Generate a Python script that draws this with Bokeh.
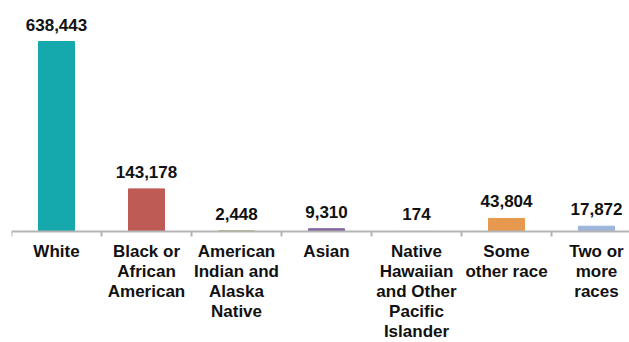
from bokeh.plotting import figure
from bokeh.models import ColumnDataSource, Range1d, FixedTicker
from bokeh.core.properties import value
from bokeh.embed import file_html
from bokeh.resources import INLINE

categories = ["White", "Black or\nAfrican\nAmerican", "American\nIndian and\nAlaska\nNative",
              "Asian", "Native\nHawaiian\nand Other\nPacific\nIslander", "Some\nother race",
              "Two or\nmore\nraces"]
counts = [638443, 143178, 2448, 9310, 174, 43804, 17872]
bar_colors = ["#15A9AD", "#BE5B54", "#9BAE63", "#8266A0", "#4BA3B8", "#E6994F", "#9DB5DB"]

xs = [i + 0.5 for i in range(len(categories))]
labels = [f"{c:,}" for c in counts]
src = ColumnDataSource(dict(x=xs, y=counts, color=bar_colors, label=labels,
                            cat=categories, zero=[0] * len(categories)))

W, H = 629, 342
left = 11
frame_w = W - left
cat_px = 90.0
axis_px = 231      # pixel row of the baseline
top_bar_px = 190   # height in px of the tallest bar
top_val = max(counts) * axis_px / top_bar_px
bottom_val = -top_val * (H - axis_px) / axis_px

p = figure(width=W, height=H, output_backend="svg", toolbar_location=None,
           x_range=Range1d(0, frame_w / cat_px),
           y_range=Range1d(bottom_val, top_val),
           min_border_left=left, min_border_right=0, min_border_top=0,
           min_border_bottom=0)
p.outline_line_color = None
p.grid.visible = False
p.yaxis.visible = False

p.vbar(x="x", top="y", bottom=0, width=0.4, color="color", source=src)
p.text(x="x", y="y", text="label", source=src, y_offset=-17,
       text_align="center", text_baseline="alphabetic",
       text_font=value("Liberation Sans"), text_font_style="bold",
       text_font_size="17px", text_color="#111111")
p.text(x="x", y="zero", text="cat", source=src, y_offset=10,
       text_align="center", text_baseline="top",
       text_font=value("Liberation Sans"), text_font_style="bold",
       text_font_size="17px", text_color="#111111", text_line_height=1.06)

ax = p.xaxis[0]
ax.fixed_location = 0
ax.ticker = FixedTicker(ticks=[], minor_ticks=list(range(len(categories) + 1)))
ax.major_label_text_font_size = "0px"
ax.axis_line_color = "#B4B4B4"
ax.axis_line_width = 2
ax.major_tick_line_color = None
ax.major_tick_out = 0
ax.major_tick_in = 0
ax.minor_tick_line_color = "#B4B4B4"
ax.minor_tick_line_width = 2
ax.minor_tick_out = 5
ax.minor_tick_in = 0

open("out.html", "w").write(file_html(p, INLINE))
